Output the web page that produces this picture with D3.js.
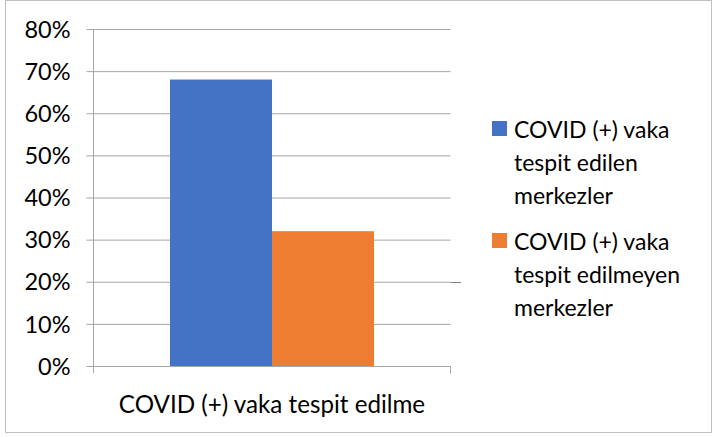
<!DOCTYPE html>
<html lang="tr">
<head>
<meta charset="utf-8">
<title>COVID (+) vaka tespit edilme</title>
<script src="https://d3js.org/d3.v7.min.js"></script>
<style type="text/css">
body { margin: 0; background: #fff; }
svg  { display: block; font-family: Lato, "Liberation Sans", sans-serif; }
</style>
</head>
<body>
<script type="text/javascript">

// chart data
var categories = ["COVID (+) vaka tespit edilme"];
var seriesNames = [
  ["COVID (+) vaka", "tespit edilen", "merkezler"],
  ["COVID (+) vaka", "tespit edilmeyen", "merkezler"]
];
var seriesValues = [0.68, 0.32];
var seriesColors = ["#4472c4", "#ed7d31"];
var yTicks = [0, 0.1, 0.2, 0.3, 0.4, 0.5, 0.6, 0.7, 0.8];

var width = 713, height = 437;
var plot = { left: 93.5, right: 450.5, top: 29, bottom: 366 };

var svg = d3.select("body").append("svg")
    .attr("width", width)
    .attr("height", height);

// outer chart border
svg.append("rect")
    .attr("x", 5.5).attr("y", 0.5)
    .attr("width", 706).attr("height", 432)
    .attr("fill", "none")
    .attr("stroke", "#bfbfbf");

var y = d3.scaleLinear().domain([0, 0.8]).range([plot.bottom, plot.top]);
var x0 = d3.scaleBand().domain(categories).range([plot.left, plot.right]).paddingInner(0).paddingOuter(0.375);
var x1 = d3.scaleBand().domain(d3.range(seriesValues.length)).range([0, x0.bandwidth()]);

// gridlines + y labels
var yAxis = d3.axisLeft(y)
    .tickValues(yTicks)
    .tickFormat(d3.format(".0%"))
    .tickSize(-(plot.right - plot.left))
    .tickPadding(0);

var gy = svg.append("g")
    .attr("transform", "translate(" + plot.left + ",0)")
    .call(yAxis)
    .attr("font-family", null);
gy.select(".domain").remove();
gy.selectAll(".tick line")
    .attr("x1", -7)
    .attr("stroke", "#a6a6a6");
gy.selectAll(".tick text")
    .attr("x", -23)
    .attr("dy", "0.35em")
    .attr("fill", "#000")
    .attr("font-size", 23.5);

// odd longer line at 20%
svg.append("line")
    .attr("x1", plot.right).attr("x2", 461)
    .attr("y1", Math.round(y(0.2)) + 0.5).attr("y2", Math.round(y(0.2)) + 0.5)
    .attr("stroke", "#7f7f7f");

// vertical axis line
svg.append("line")
    .attr("x1", plot.left).attr("x2", plot.left)
    .attr("y1", plot.top).attr("y2", plot.bottom + 7)
    .attr("stroke", "#a6a6a6");

// bars
svg.append("g")
    .selectAll("rect")
    .data(seriesValues)
    .enter()
    .append("rect")
    .attr("x", function(d, i) { return x0(categories[0]) + x1(i); })
    .attr("y", function(d) { return y(d); })
    .attr("width", x1.bandwidth())
    .attr("height", function(d) { return y(0) - y(d); })
    .attr("fill", function(d, i) { return seriesColors[i]; });

// x axis
var xAxis = d3.axisBottom(x0).tickSize(0).tickPadding(0);
var gx = svg.append("g")
    .attr("transform", "translate(0," + (plot.bottom + 0.5) + ")")
    .call(xAxis)
    .attr("font-family", null);
gx.select(".domain").attr("stroke", "#a6a6a6").attr("d", "M" + (plot.left - 7) + ",0H" + plot.right + "V7");
gx.selectAll(".tick text")
    .attr("y", 46)
    .attr("dy", "0")
    .attr("fill", "#000")
    .attr("font-size", 24.2);

// legend
var legend = svg.append("g")
    .selectAll("g")
    .data(seriesNames)
    .enter()
    .append("g")
    .attr("transform", function(d, i) { return "translate(492," + (121 + i * 112) + ")"; });

legend.append("rect")
    .attr("width", 15).attr("height", 15)
    .attr("fill", function(d, i) { return seriesColors[i]; });

legend.append("text")
    .attr("x", 22)
    .attr("font-size", 23)
    .attr("fill", "#000")
    .selectAll("tspan")
    .data(function(d) { return d; })
    .enter()
    .append("tspan")
    .attr("x", 22)
    .attr("y", function(d, i) { return 17 + i * 33; })
    .text(function(d) { return d; });

</script>
</body>
</html>
